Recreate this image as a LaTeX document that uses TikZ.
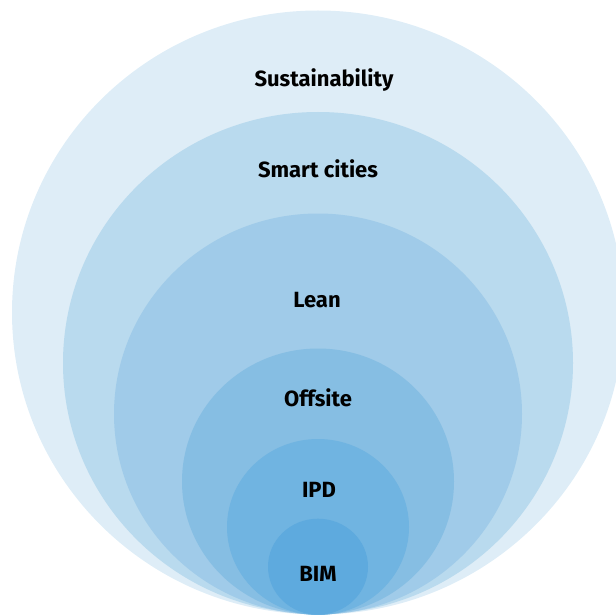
\documentclass[tikz,border=0pt]{standalone}
\usepackage{fontspec}
\setmainfont{Fira Sans}[BoldFont={Fira Sans Bold}]
\definecolor{c1}{RGB}{222,237,247}
\definecolor{c2}{RGB}{185,218,238}
\definecolor{c3}{RGB}{160,203,233}
\definecolor{c4}{RGB}{134,190,227}
\definecolor{c5}{RGB}{112,180,225}
\definecolor{c6}{RGB}{94,170,222}
\tikzset{
  lbl/.style={font=\fontsize{22}{26}\selectfont\bfseries,text=black,inner sep=0pt,anchor=base}
}
\begin{document}
\begin{tikzpicture}[x=1pt,y=-1pt]
\useasboundingbox (0,0) rectangle (616,615);
\begin{scope}
\clip (0,0) rectangle (616,615);
\fill[c1] (318,312.5) ellipse [x radius=306pt, y radius=302pt];
\fill[c2] (318,363) ellipse [x radius=255pt, y radius=251pt];
\fill[c3] (318,414) ellipse [x radius=204pt, y radius=200.5pt];
\fill[c4] (318,481.5) ellipse [x radius=136pt, y radius=133pt];
\fill[c5] (318,527) ellipse [x radius=91pt, y radius=88pt];
\fill[c6] (318,566.7) ellipse [x radius=50pt, y radius=48pt];
\end{scope}
\node[lbl] (tsus) at (324,86.5) {Sustainability};
\node[lbl] (tsmart) at (318,177.5) {Smart cities};
\node[lbl] (tlean) at (317,307.5) {Lean};
\node[lbl] (toff) at (318,406) {Offsite};
\node[lbl] (tipd) at (319,497) {IPD};
\node[lbl] (tbim) at (318,581.5) {BIM};
\end{tikzpicture}
\end{document}
